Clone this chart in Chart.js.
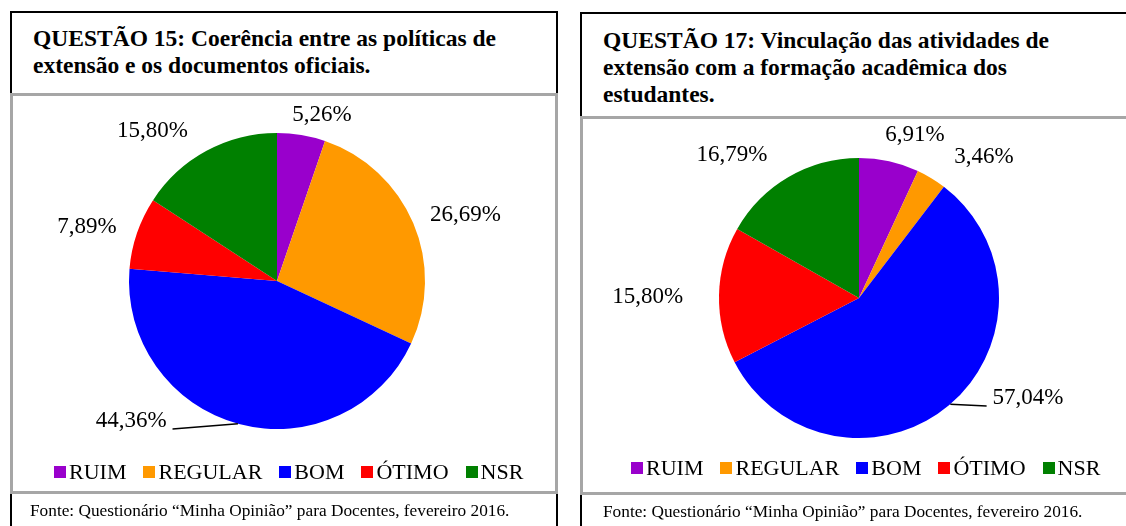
<!DOCTYPE html>
<html>
<head>
<meta charset="utf-8">
<script src="https://cdn.jsdelivr.net/npm/chart.js@4.4.0/dist/chart.umd.min.js"></script>
<style>
  body { margin: 0; width: 1126px; height: 526px; overflow: hidden; background: #fff; position: relative;
         font-family: "Liberation Serif", "Times New Roman", serif; color: #000; }
  .box { position: absolute; box-sizing: border-box; }
  .title { border: 2px solid #000; font-weight: bold; font-size: 23.5px; line-height: 27px; padding: 12px 0 0 21px; white-space: nowrap; }
  .plot { border: 3px solid #a6a6a6; }
  .fonte { border-left: 2px solid #000; border-right: 2px solid #000; font-size: 17.3px; padding: 7px 0 0 18px; white-space: nowrap; }
  .legend { position: absolute; display: flex; font-size: 22px; line-height: 24px; white-space: nowrap; }
  .legend span.item { display: flex; align-items: center; margin-right: 17px; }
  .legend i { display: inline-block; width: 12px; height: 12px; margin-right: 3px; }
  canvas { position: absolute; }
</style>
</head>
<body>

<div class="box title" style="left:10px;top:11px;width:548px;height:84px;">QUESTÃO 15: Coerência entre as políticas de<br>extensão e os documentos oficiais.</div>
<div class="box plot" style="left:10px;top:93px;width:548px;height:401px;"></div>
<canvas id="chart15" width="542" height="393" style="left:13px;top:97px;"></canvas>
<div class="legend" id="legend15" style="left:54px;top:460px;"></div>
<div class="box fonte" style="left:10px;top:494px;width:548px;height:40px;">Fonte: Questionário “Minha Opinião” para Docentes, fevereiro 2016.</div>

<div class="box title" style="left:580px;top:12px;width:560px;height:106px;padding-top:13px;">QUESTÃO 17: Vinculação das atividades de<br>extensão com a formação acadêmica dos<br>estudantes.</div>
<div class="box plot" style="left:580px;top:116px;width:560px;height:379px;"></div>
<canvas id="chart17" width="540" height="372" style="left:583px;top:119px;"></canvas>
<div class="legend" id="legend17" style="left:631px;top:456px;"></div>
<div class="box fonte" style="left:580px;top:495px;width:560px;height:40px;padding-left:21px;">Fonte: Questionário “Minha Opinião” para Docentes, fevereiro 2016.</div>

<script>
const categories = ['RUIM', 'REGULAR', 'BOM', 'ÓTIMO', 'NSR'];
const colors = ['#9900cc', '#ff9900', '#0000ff', '#ff0000', '#008000'];
const valuesQ15 = [5.26, 26.69, 44.36, 7.89, 15.80];
const valuesQ17 = [6.91, 3.46, 57.04, 15.80, 16.79];

// label spots: [angle from top in degrees, distance in radii]
const spotsQ15 = [[15.2, 1.16], [70.7, 1.35], [226.2, 1.366], [286, 1.335], [320.4, 1.32]];
const spotsQ17 = [[19, 1.23], [41.6, 1.345], [120.6, 1.403], [270.3, 1.51], [318.4, 1.366]];

const pieLabels = {
  id: 'pieLabels',
  afterDatasetsDraw(chart, args, opts) {
    const ctx = chart.ctx;
    const arcs = chart.getDatasetMeta(0).data;
    const cx = arcs[0].x, cy = arcs[0].y, r = arcs[0].outerRadius;
    const values = chart.data.datasets[0].data;
    ctx.save();
    ctx.font = '23px "Liberation Serif"';
    ctx.fillStyle = '#000';
    ctx.textAlign = 'center';
    ctx.textBaseline = 'middle';
    opts.spots.forEach((s, i) => {
      const a = s[0] * Math.PI / 180;
      const x = cx + Math.sin(a) * r * s[1];
      const y = cy - Math.cos(a) * r * s[1];
      const txt = values[i].toFixed(2).replace('.', ',') + '%';
      ctx.fillText(txt, x, y);
      if (opts.leader && opts.leader.index === i) {
        const e = opts.leader.angle * Math.PI / 180;
        const ex = cx + Math.sin(e) * r, ey = cy - Math.cos(e) * r;
        const w = ctx.measureText(txt).width;
        const lx = ex > x ? x + w / 2 + 6 : x - w / 2 - 6;
        ctx.beginPath();
        ctx.strokeStyle = '#000';
        ctx.lineWidth = 1.5;
        ctx.moveTo(lx, y + 8);
        ctx.lineTo(ex, ey);
        ctx.stroke();
      }
    });
    ctx.restore();
  }
};

function makePie(id, values, spots, leader, padding) {
  new Chart(document.getElementById(id), {
    type: 'pie',
    data: {
      labels: categories,
      datasets: [{ data: values, backgroundColor: colors, borderWidth: 0 }]
    },
    options: {
      responsive: false,
      animation: false,
      layout: { padding: padding },
      plugins: {
        legend: { display: false },
        tooltip: { enabled: false },
        pieLabels: { spots: spots, leader: leader }
      }
    },
    plugins: [pieLabels]
  });
}

function makeLegend(id) {
  document.getElementById(id).innerHTML = categories
    .map((c, i) => `<span class="item"><i style="background:${colors[i]}"></i>${c}</span>`)
    .join('');
}

makePie('chart15', valuesQ15, spotsQ15, { index: 2, angle: 195.3 }, { left: 116, top: 36, right: 130, bottom: 61 });
makePie('chart17', valuesQ17, spotsQ17, { index: 2, angle: 139.3 }, { left: 136, top: 39, right: 124, bottom: 53 });
makeLegend('legend15');
makeLegend('legend17');
</script>
</body>
</html>
